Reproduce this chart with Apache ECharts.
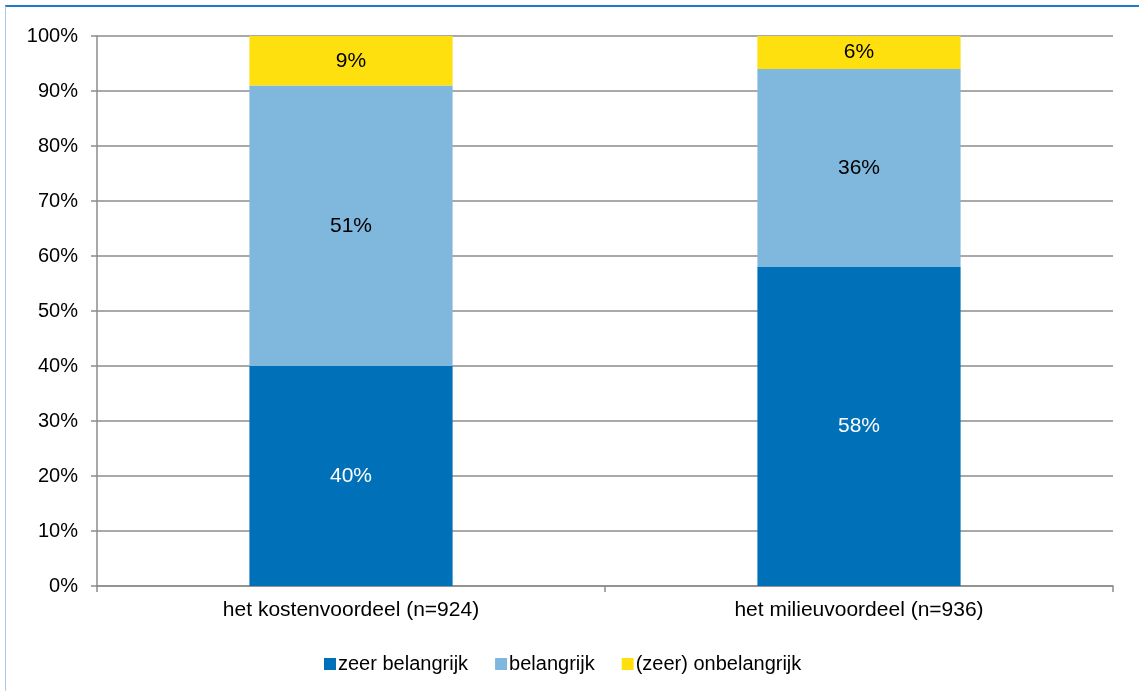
<!DOCTYPE html>
<html>
<head>
<meta charset="utf-8">
<script src="https://cdn.jsdelivr.net/npm/echarts@6/dist/echarts.min.js"></script>
<style>
  html, body { margin: 0; padding: 0; background: #fff; }
  #frame { position: absolute; left: 5px; top: 5px; width: 1140px; height: 700px;
           border-top: 2px solid #1f7cc7; border-left: 1px solid #a9c8ea; }
  #chart { position: absolute; left: 0; top: 0; width: 1139px; height: 691px; }
</style>
</head>
<body>
<div id="frame"></div>
<div id="chart"></div>
<script>
const categories = ['het kostenvoordeel (n=924)', 'het milieuvoordeel (n=936)']
const zeerBelangrijk = [40, 58]
const belangrijk = [51, 36]
const onbelangrijk = [9, 6]
const yTicks = [0, 10, 20, 30, 40, 50, 60, 70, 80, 90, 100]

const chart = echarts.init(document.getElementById('chart'))
const font = 'Liberation Sans, Arial, sans-serif'

const label = (color) => ({
  show: true,
  position: 'inside',
  color: color,
  fontSize: 21,
  fontFamily: font,
  formatter: (p) => p.value + '%',
})

chart.setOption({
  animation: false,
  backgroundColor: 'transparent',
  grid: { left: 97, right: 26, top: 36, bottom: 105 },
  legend: {
    top: 649,
    left: 319,
    itemWidth: 12,
    itemHeight: 12,
    itemGap: 27,
    icon: 'rect',
    textStyle: { fontSize: 20, fontFamily: font, color: '#000', padding: [0, 0, 0, -3] },
    data: ['zeer belangrijk', 'belangrijk', '(zeer) onbelangrijk'],
  },
  xAxis: {
    type: 'category',
    data: categories,
    axisLine: { lineStyle: { color: '#8c8c8c', width: 1.5 } },
    axisTick: { show: true, length: 6, lineStyle: { color: '#8c8c8c', width: 1.5 } },
    axisLabel: { fontSize: 21, fontFamily: font, color: '#000', margin: 14 },
  },
  yAxis: {
    type: 'value',
    min: 0,
    max: 100,
    interval: 10,
    axisLine: { show: true, lineStyle: { color: '#8c8c8c', width: 1.5 } },
    axisTick: { show: true, length: 6, lineStyle: { color: '#8c8c8c', width: 1.5 } },
    axisLabel: {
      fontSize: 20, fontFamily: font, color: '#000', margin: 19,
      formatter: (v) => yTicks.includes(v) ? v + '%' : '',
    },
    splitLine: { show: true, lineStyle: { color: '#8c8c8c', width: 1.5 } },
  },
  series: [
    {
      name: 'zeer belangrijk', type: 'bar', stack: 'a', barWidth: '40%',
      data: zeerBelangrijk, itemStyle: { color: '#0070b9' }, label: label('#fff'),
    },
    {
      name: 'belangrijk', type: 'bar', stack: 'a',
      data: belangrijk, itemStyle: { color: '#80b7dc' }, label: label('#000'),
    },
    {
      name: '(zeer) onbelangrijk', type: 'bar', stack: 'a',
      data: onbelangrijk, itemStyle: { color: '#ffe00f' }, label: label('#000'),
    },
  ],
})
</script>
</body>
</html>
